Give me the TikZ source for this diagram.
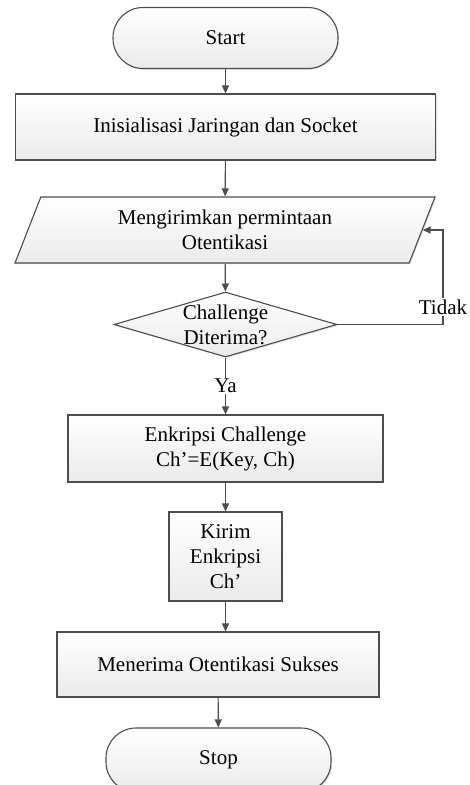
\documentclass[tikz,border=0pt]{standalone}
\usepackage{fontspec}
\setmainfont{Liberation Serif}
\usetikzlibrary{shapes.geometric,shadows,arrows.meta}
\definecolor{edgegray}{HTML}{4D4D4D}
\begin{document}
\begin{tikzpicture}[x=1pt,y=1pt,
    font=\fontsize{21}{25}\selectfont,
    base/.style={draw=edgegray,line width=1.1pt,top color=white,bottom color=gray!16,
        drop shadow={opacity=0.25,shadow xshift=1.2pt,shadow yshift=-1.2pt},
        align=center,inner sep=0pt},
    term/.style={base,rounded corners=30pt,minimum width=225pt,minimum height=61pt},
    proc/.style={base,minimum height=66pt},
    io/.style={base,trapezium,trapezium left angle=57,trapezium right angle=123,
        trapezium stretches body,minimum width=420pt,minimum height=66pt},
    decision/.style={base,diamond,minimum width=223pt,minimum height=65pt},
    arr/.style={draw=edgegray,line width=1.1pt,-{Triangle[length=8pt,width=7pt]}},
    lbl/.style={fill=white,inner sep=1.5pt}]
    \useasboundingbox (0,0) rectangle (470,-785);
    \node[term] (start) at (225.5,-38) {Start};
    \node[proc,minimum width=420pt] (init) at (225.5,-127) {Inisialisasi Jaringan dan Socket};
    \node[io] (send) at (225,-230) {Mengirimkan permintaan\\Otentikasi};
    \node[decision,label={[align=center]center:Challenge\\Diterima?}] (dec) at (225.5,-324.5) {};
    \node[proc,minimum width=315pt,minimum height=67pt] (enc) at (225.5,-448.5) {Enkripsi Challenge\\Ch’=E(Key, Ch)};
    \node[proc,minimum width=113pt,minimum height=89pt] (kirim) at (225.5,-556.5) {Kirim\\Enkripsi\\Ch’};
    \node[proc,minimum width=322pt,minimum height=65pt] (mener) at (218,-664.5) {Menerima Otentikasi Sukses};
    \node[term,minimum height=64pt] (stop) at (218.5,-760) {Stop};
    \coordinate (loop) at (443,-324.5);
    \draw[arr] (start) -- (init);
    \draw[arr] (init) -- (send);
    \draw[arr] (send) -- (dec);
    \draw[arr] (dec.east) -- (loop) |- (send.east);
    \node[lbl] (no) at (443,-307) {Tidak};
    \draw[arr] (dec) -- node[lbl] (yes) {Ya} (enc);
    \draw[arr] (enc) -- (kirim);
    \draw[arr] (kirim.south) -- (kirim.south |- mener.north);
    \draw[arr] (mener) -- (stop);
\end{tikzpicture}
\end{document}
